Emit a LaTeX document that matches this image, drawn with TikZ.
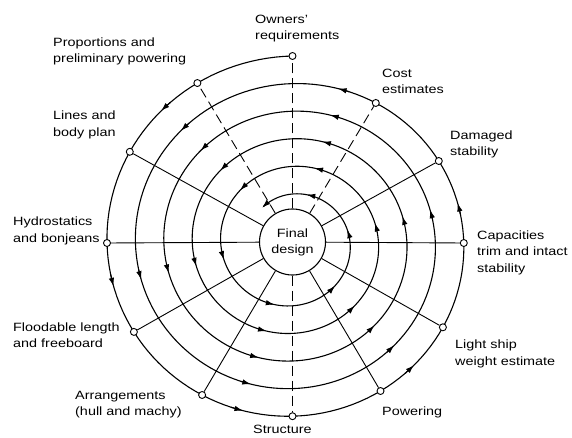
\documentclass[tikz,border=0pt]{standalone}
\usepackage{fontspec}
\setmainfont{Liberation Sans}[FakeStretch=1.2]
\usetikzlibrary{arrows.meta}
\begin{document}
\begin{tikzpicture}[x=1pt,y=-1pt,
  declare function={spr(\t)=187-0.0766667*(\t-90);
                    sxx(\t)=292.5+1.03*spr(\t)*cos(\t);
                    syy(\t)=243-spr(\t)*sin(\t);},
  lbl/.style={anchor=west, align=left, inner sep=0pt, font=\fontsize{12}{16.5}\selectfont},
  mk/.style={circle, draw, fill=white, line width=0.9pt, inner sep=0pt, minimum size=7pt},
  spoke/.style={line width=0.9pt},
  dspoke/.style={spoke, dash pattern=on 10pt off 5pt},
  spiral/.style={line width=1.1pt},
  tip/.style={-{Latex[length=8.5pt,width=5.5pt]}, line width=1.1pt}]
\useasboundingbox (0,0) rectangle (572,438);
% spiral
\draw[spiral, -{Latex[length=8.5pt,width=5.5pt]}] plot[domain=90:1930, samples=737, variable=\t] ({sxx(\t)},{syy(\t)});
\foreach \a in {134,194,...,1874}
  \draw[tip] plot[domain=\a-4:\a, samples=3, variable=\t] ({sxx(\t)},{syy(\t)});
% final design
\node[circle, draw, fill=white, line width=1.1pt, minimum size=66pt, inner sep=0pt, align=center,
      font=\fontsize{12}{16}\selectfont] (fd) at (292.5,242) {Final\\design};
% markers
\foreach \k in {0,...,11} {
  \pgfmathsetmacro\th{90+30*\k}
  \node[mk] (m\k) at ({sxx(\th)},{syy(\th)}) {};
}
% spokes
\foreach \k in {0,1,6,11} \draw[dspoke] (fd) -- (m\k);
\foreach \k in {2,3,4,5,7,8,9,10} \draw[spoke] (fd) -- (m\k);
% labels
\node[lbl] (owners) at (255,28.5) {Owners'\\requirements};
\node[lbl] (prop) at (53,51.5) {Proportions and\\preliminary powering};
\node[lbl] (cost) at (382,81.5) {Cost\\estimates};
\node[lbl] (dam) at (450,144.5) {Damaged\\stability};
\node[lbl] (lines) at (53,125) {Lines and\\body plan};
\node[lbl] (hyd) at (13,231) {Hydrostatics\\and bonjeans};
\node[lbl] (cap) at (477,252.5) {Capacities\\trim and intact\\stability};
\node[lbl] (flood) at (13,335) {Floodable length\\and freeboard};
\node[lbl] (light) at (455,354) {Light ship\\weight estimate};
\node[lbl] (arr) at (75,404.5) {Arrangements\\(hull and machy)};
\node[lbl] (struct) at (253,429.5) {Structure};
\node[lbl] (pow) at (382,412) {Powering};
\end{tikzpicture}
\end{document}
